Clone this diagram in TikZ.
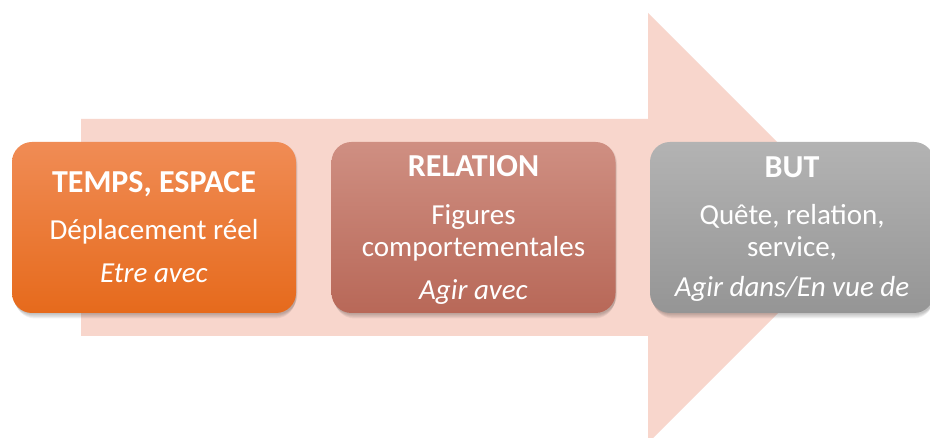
\documentclass[tikz,border=0pt]{standalone}
\usepackage{fontspec}
\setmainfont{Carlito}
\definecolor{arrowfill}{HTML}{F8D6CC}
\definecolor{oTop}{HTML}{F08C55}
\definecolor{oBot}{HTML}{E66A1C}
\definecolor{rTop}{HTML}{CF8F82}
\definecolor{rBot}{HTML}{B86858}
\definecolor{gTop}{HTML}{B3B3B3}
\definecolor{gBot}{HTML}{959595}
\tikzset{
  card/.style={rounded corners=20pt, minimum width=284pt, minimum height=171pt, inner sep=0pt, draw=none},
  shade/.style={rounded corners=20pt, fill=black, draw=none},
  ttl/.style={anchor=base, text=white, font=\fontsize{32}{34}\selectfont\bfseries, inner sep=0pt},
  txt/.style={anchor=base, text=white, font=\fontsize{29}{31}\selectfont, inner sep=0pt},
  itx/.style={anchor=base, text=white, font=\fontsize{29}{31}\selectfont\itshape, inner sep=0pt},
}
\begin{document}
\begin{tikzpicture}[x=1pt,y=-1pt]
\useasboundingbox (0,0) rectangle (930,438);
\fill[white] (0,0) rectangle (930,438);
% big arrow
\fill[arrowfill] (81,119) -- (648,119) -- (648,13) -- (863,228) -- (648,443) -- (648,336) -- (81,336) -- cycle;
% shadows
\foreach \cx in {154,473.5,792}{
  \foreach \k in {1,...,5}{
    \fill[shade, opacity=0.05] (\cx-142+\k*0.6,142+\k*1.0) rectangle (\cx+142+2-\k*0.5,313+\k*1.1);
  }
}
% cards
\node[card, top color=oTop, bottom color=oBot] (c1) at (154,227.5) {};
\node[card, top color=rTop, bottom color=rBot] (c2) at (473.5,227.5) {};
\node[card, top color=gTop, bottom color=gBot] (c3) at (792,227.5) {};
% texts card 1
\node[ttl] (t1) at (154,193) {TEMPS, ESPACE};
\node[txt] (t1a) at (154,240) {Déplacement réel};
\node[itx] (t1b) at (154,283) {Etre avec};
% texts card 2
\node[ttl] (t2) at (473.5,177) {RELATION};
\node[txt] (t2a) at (473.5,225) {Figures};
\node[txt] (t2b) at (473.5,257) {comportementales};
\node[itx] (t2c) at (473.5,300) {Agir avec};
% texts card 3
\node[ttl] (t3) at (792,178) {BUT};
\node[txt] (t3a) at (792,225) {Quête, relation,};
\node[txt] (t3b) at (792,257) {service,};
\node[itx] (t3c) at (792,297) {Agir dans/En vue de};
\end{tikzpicture}
\end{document}
